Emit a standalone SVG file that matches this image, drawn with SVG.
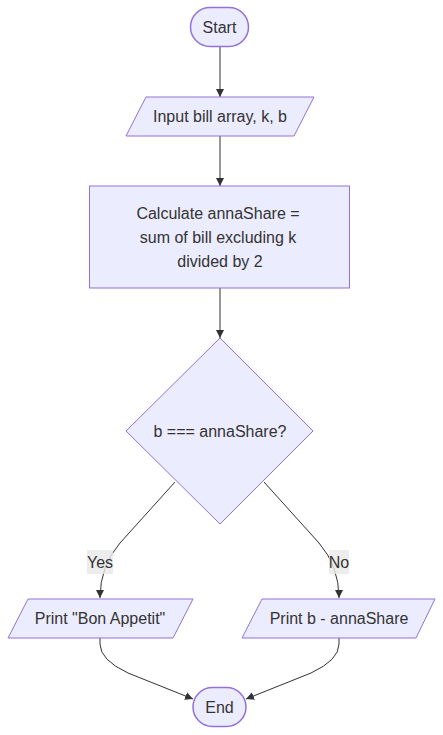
<svg xmlns="http://www.w3.org/2000/svg" width="443" height="735" viewBox="0 0 443 735">
<style>
.node{fill:#ECECFF;stroke:#9370DB;stroke-width:1}
.term{stroke-width:1.5}
.t{font-family:"Liberation Sans",Arial,sans-serif;font-size:16px;fill:#333;text-anchor:middle;dominant-baseline:central}
.edge{fill:none;stroke:#333;stroke-width:1}
.lbl{fill:#e8e8e8;fill-opacity:0.8}
</style>
<defs>
<marker id="arr" viewBox="0 0 10 10" refX="10" refY="5" markerWidth="8" markerHeight="8" markerUnits="userSpaceOnUse" orient="auto">
<path d="M0,0 L10,5 L0,10 z" fill="#333"/>
</marker>
</defs>
<rect width="443" height="735" fill="#fff"/>
<g id="connectors">
<path class="edge" d="M220,47 L220,97" marker-end="url(#arr)"/>
<path class="edge" d="M220,136 L220,186" marker-end="url(#arr)"/>
<path class="edge" d="M220,288 L220,338" marker-end="url(#arr)"/>
<path class="edge" d="M175,482 L120,543 Q100,566 100,598" marker-end="url(#arr)"/>
<path class="edge" d="M264,482 L319,543 Q339,566 339,598" marker-end="url(#arr)"/>
<path class="edge" d="M100,638 L100,644 Q100,660 128,673 L193,699" marker-end="url(#arr)"/>
<path class="edge" d="M339,638 L339,644 Q339,660 311,673 L246,699" marker-end="url(#arr)"/>
<g id="label-yes"><rect class="lbl" x="87" y="550" width="26" height="24"/><text class="t" x="100" y="562">Yes</text></g>
<g id="label-no"><rect class="lbl" x="329" y="550" width="20" height="24"/><text class="t" x="339" y="562">No</text></g>
</g>
<g id="start"><rect class="node term" x="190.5" y="7.5" width="58" height="39" rx="19.5"/><text class="t" x="219.5" y="27">Start</text></g>
<g id="input"><polygon class="node" points="146,97 314,97 294,136 126,136"/><text class="t" x="220" y="116.5">Input bill array, k, b</text></g>
<g id="calc"><rect class="node" x="89.5" y="186" width="260" height="102"/>
<text class="t" x="218" y="213">Calculate annaShare =</text>
<text class="t" x="218" y="237">sum of bill excluding k</text>
<text class="t" x="220" y="261">divided by 2</text></g>
<g id="decision"><polygon class="node" points="220,338 313,431 220,524 126,431"/><text class="t" x="220" y="431">b === annaShare?</text></g>
<g id="print-yes"><polygon class="node" points="28,599 193,599 173,638 8,638"/><text class="t" x="100" y="618.5">Print "Bon Appetit"</text></g>
<g id="print-no"><polygon class="node" points="262,599 435,599 416,638 242,638"/><text class="t" x="339" y="618.5">Print b - annaShare</text></g>
<g id="end"><rect class="node term" x="193" y="687.5" width="53" height="39" rx="19.5"/><text class="t" x="219.5" y="707">End</text></g>
</svg>
